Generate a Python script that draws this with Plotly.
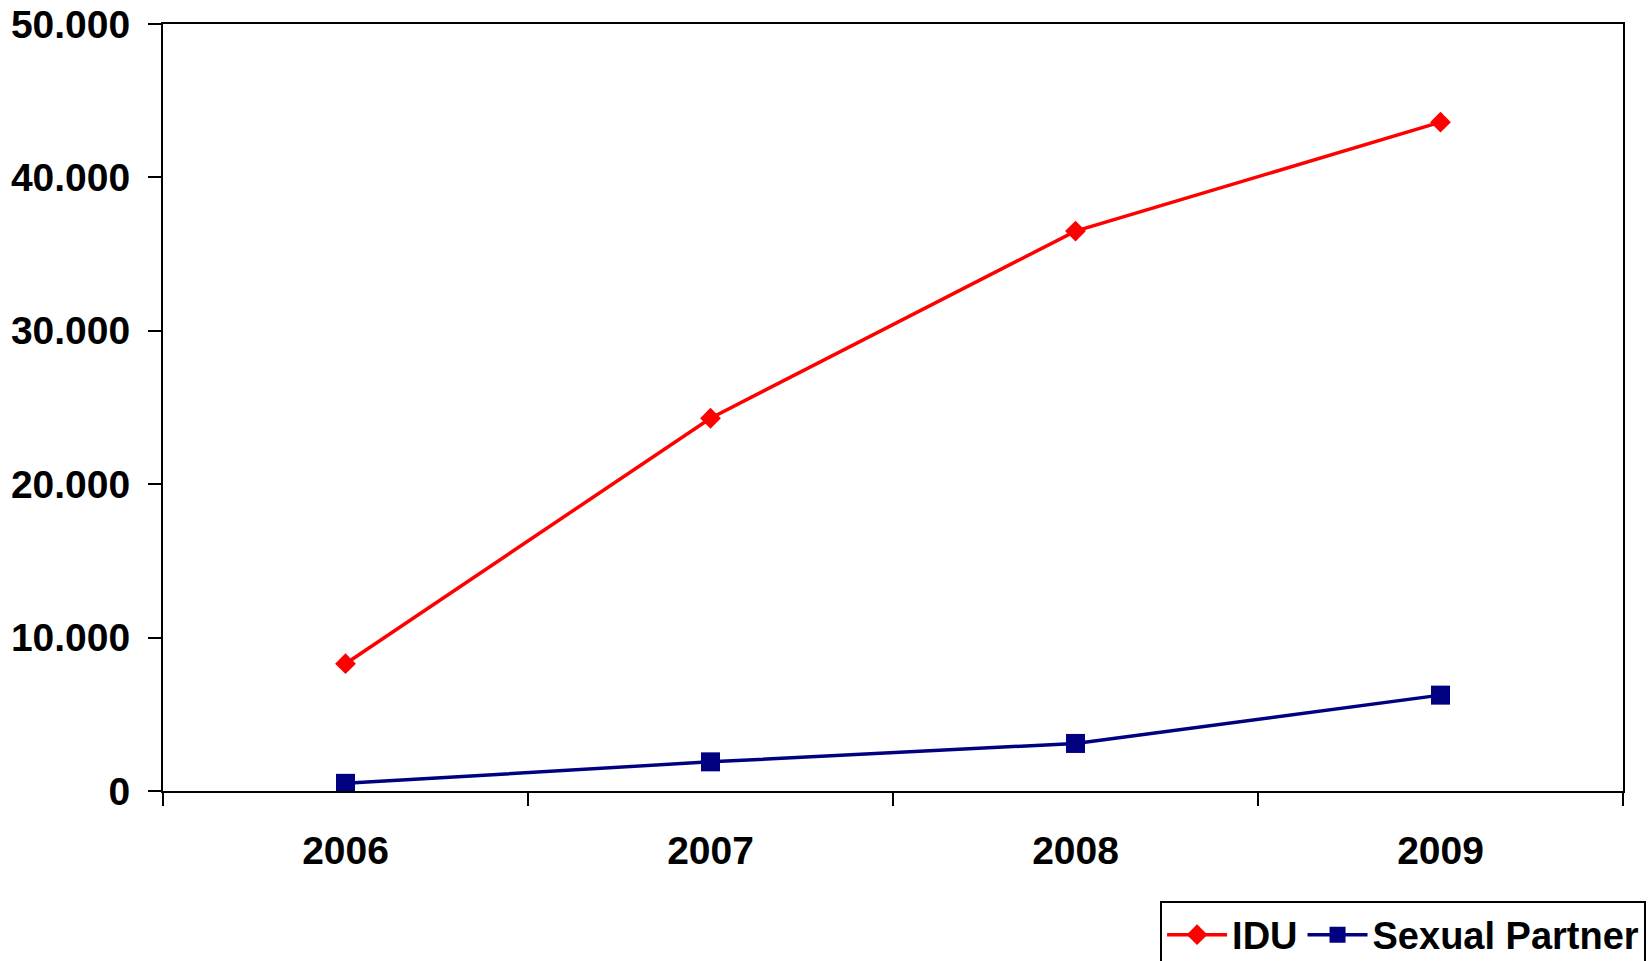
import plotly.graph_objects as go

years = ["2006", "2007", "2008", "2009"]
idu = [8300, 24300, 36500, 43600]
sexual_partner = [500, 1900, 3100, 6250]

FONT = "Liberation Sans, Arial, sans-serif"
TXT = dict(family=FONT, size=39, color="black", weight=700)
LEG = dict(family=FONT, size=38, color="black", weight=700)

fig = go.Figure()
fig.add_trace(go.Scatter(
    x=years, y=idu, name="IDU", mode="lines+markers",
    line=dict(color="#FF0000", width=3.5),
    marker=dict(symbol="diamond", size=16, color="#FF0000"),
))
fig.add_trace(go.Scatter(
    x=years, y=sexual_partner, name="Sexual Partner", mode="lines+markers",
    line=dict(color="#000080", width=3.5),
    marker=dict(symbol="square", size=19, color="#000080"),
))

fig.update_layout(
    width=1649, height=961,
    margin=dict(l=163, r=26, t=24, b=170, autoexpand=False),
    paper_bgcolor="white", plot_bgcolor="white",
    separators=",.",
    font=TXT,
    showlegend=True,
    legend=dict(
        orientation="h", x=1.0158, xanchor="right", y=-0.144, yanchor="top",
        bordercolor="black", borderwidth=2, bgcolor="white",
        font=LEG, itemwidth=60, tracegroupgap=0,
    ),
)
fig.update_xaxes(
    type="category", range=[-0.5, 3.5], tickson="boundaries",
    showline=True, linecolor="black", linewidth=2, mirror=True,
    ticks="outside", ticklen=13, tickwidth=2, tickcolor="black",
    showgrid=False, zeroline=False, ticklabelstandoff=24,
    tickfont=TXT,
)
fig.update_yaxes(
    range=[0, 50000], dtick=10000, tickformat=",d",
    showline=True, linecolor="black", linewidth=2, mirror=True,
    ticks="outside", ticklen=13, tickwidth=2, tickcolor="black",
    showgrid=False, zeroline=False, ticklabelstandoff=10,
    tickfont=TXT,
)

fig.write_html("out.html")
